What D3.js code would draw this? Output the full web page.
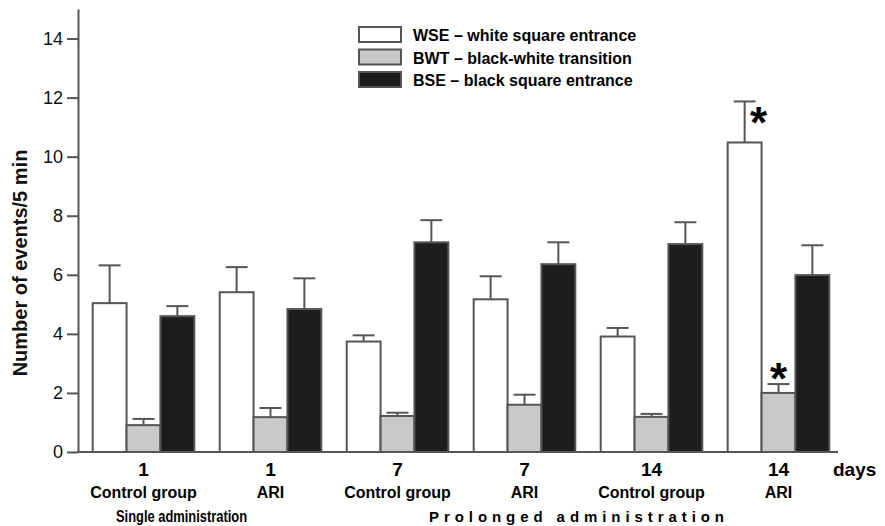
<!DOCTYPE html>
<html>
<head>
<meta charset="utf-8">
<script src="https://cdn.jsdelivr.net/npm/d3@7"></script>
<style>
  body { margin: 0; background: #fff; }
  svg { display: block; font-family: "Liberation Sans", Arial, sans-serif; }
</style>
</head>
<body>
<svg id="chart" width="885" height="526"></svg>
<script>
// groups along the x axis
const days = ["1", "1", "7", "7", "14", "14"];
const groupLabels = ["Control group", "ARI", "Control group", "ARI", "Control group", "ARI"];

// series
const seriesKeys = ["WSE", "BWT", "BSE"];
const seriesLabels = ["WSE \u2013 white square entrance", "BWT \u2013 black-white transition", "BSE \u2013 black square entrance"];

// means and error (SEM) per series
const wse = [5.04, 5.41, 3.74, 5.17, 3.91, 10.48];
const wseErr = [1.28, 0.85, 0.21, 0.78, 0.29, 1.39];
const bwt = [0.91, 1.18, 1.22, 1.6, 1.19, 2.0];
const bwtErr = [0.21, 0.31, 0.11, 0.34, 0.1, 0.3];
const bse = [4.6, 4.84, 7.1, 6.36, 7.04, 5.99];
const bseErr = [0.34, 1.04, 0.75, 0.74, 0.74, 1.01];

// significance marks (*)
const wseSig = [0, 0, 0, 0, 0, 1];
const bwtSig = [0, 0, 0, 0, 0, 1];
const bseSig = [0, 0, 0, 0, 0, 0];

const yTicks = [0, 2, 4, 6, 8, 10, 12, 14];

const means = [wse, bwt, bse];
const errs = [wseErr, bwtErr, bseErr];
const sigs = [wseSig, bwtSig, bseSig];
const fills = ["#ffffff", "#c9c9c9", "#1d1d1d"];
const axisColor = "#555";

const svg = d3.select("#chart");

const x = d3.scaleBand()
  .domain(d3.range(days.length))
  .range([80, 842])
  .paddingInner(0.2)
  .paddingOuter(0.1);

const xs = d3.scaleBand()
  .domain(seriesKeys)
  .range([0, x.bandwidth()]);

const y = d3.scaleLinear().domain([0, 15]).range([452, 9]);

// bars
const data = [];
days.forEach((d, i) => {
  seriesKeys.forEach((k, j) => {
    data.push({ g: i, key: k, s: j, v: means[j][i], e: errs[j][i], sig: sigs[j][i] });
  });
});

const bars = svg.append("g");

// error bars (drawn first so bars cover the stem base)
bars.selectAll("line.err")
  .data(data)
  .enter()
  .append("line")
  .attr("class", "err")
  .attr("x1", d => x(d.g) + xs(d.key) + xs.bandwidth() / 2)
  .attr("x2", d => x(d.g) + xs(d.key) + xs.bandwidth() / 2)
  .attr("y1", d => y(d.v))
  .attr("y2", d => y(d.v + d.e))
  .attr("stroke", axisColor)
  .attr("stroke-width", 2);

bars.selectAll("line.cap")
  .data(data)
  .enter()
  .append("line")
  .attr("class", "cap")
  .attr("x1", d => x(d.g) + xs(d.key) + xs.bandwidth() / 2 - 11)
  .attr("x2", d => x(d.g) + xs(d.key) + xs.bandwidth() / 2 + 11)
  .attr("y1", d => y(d.v + d.e))
  .attr("y2", d => y(d.v + d.e))
  .attr("stroke", axisColor)
  .attr("stroke-width", 2);

bars.selectAll("rect")
  .data(data)
  .enter()
  .append("rect")
  .attr("x", d => x(d.g) + xs(d.key))
  .attr("y", d => y(d.v))
  .attr("width", xs.bandwidth())
  .attr("height", d => y(0) - y(d.v))
  .attr("fill", d => fills[d.s])
  .attr("stroke", axisColor)
  .attr("stroke-width", 2);

// asterisks
bars.selectAll("text.sig")
  .data(data.filter(d => d.sig))
  .enter()
  .append("text")
  .attr("class", "sig")
  .attr("x", d => x(d.g) + xs(d.key) + xs.bandwidth() / 2 + (d.key === "WSE" ? 14 : 0))
  .attr("y", d => y(d.v + d.e) + (d.key === "WSE" ? 37 : 10))
  .attr("text-anchor", "middle")
  .style("font-size", "44px")
  .style("font-weight", "bold")
  .text("*");

// y axis
const yAxis = svg.append("g")
  .attr("transform", "translate(78,0)")
  .call(d3.axisLeft(y).tickValues(yTicks).tickSize(11).tickPadding(4).tickSizeOuter(0));
yAxis.select(".domain").attr("stroke", axisColor).attr("stroke-width", 2);
yAxis.selectAll(".tick line").attr("stroke", axisColor).attr("stroke-width", 2);
yAxis.selectAll(".tick text")
  .style("font-size", "18px")
  .style("font-family", "\"Liberation Sans\", Arial, sans-serif")
  .attr("fill", "#111");

// x axis line
svg.append("line")
  .attr("x1", 78).attr("x2", 838)
  .attr("y1", y(0)).attr("y2", y(0))
  .attr("stroke", axisColor)
  .attr("stroke-width", 2);

// y label
svg.append("text")
  .attr("transform", "translate(27,263) rotate(-90)")
  .attr("text-anchor", "middle")
  .style("font-size", "20px")
  .style("font-weight", "bold")
  .attr("fill", "#111")
  .text("Number of events/5 min");

// x labels
const xl = svg.append("g");
xl.selectAll("text.day")
  .data(days)
  .enter()
  .append("text")
  .attr("class", "day")
  .attr("x", (d, i) => x(i) + x.bandwidth() / 2)
  .attr("y", 476)
  .attr("text-anchor", "middle")
  .style("font-size", "19px")
  .style("font-weight", "bold")
  .text(d => d);

xl.selectAll("text.grp")
  .data(groupLabels)
  .enter()
  .append("text")
  .attr("class", "grp")
  .attr("x", (d, i) => x(i) + x.bandwidth() / 2)
  .attr("y", 498)
  .attr("text-anchor", "middle")
  .style("font-size", "16px")
  .style("font-weight", "bold")
  .text(d => d);

xl.append("text")
  .attr("x", 833).attr("y", 476)
  .style("font-size", "19px")
  .style("font-weight", "bold")
  .text("days");

xl.append("text")
  .attr("x", 116).attr("y", 522)
  .attr("textLength", 131)
  .attr("lengthAdjust", "spacingAndGlyphs")
  .style("font-size", "16px")
  .style("font-weight", "bold")
  .text("Single administration");

xl.append("text")
  .attr("x", 429).attr("y", 522)
  .attr("textLength", 295)
  .attr("lengthAdjust", "spacing")
  .style("font-size", "15px")
  .style("font-weight", "bold")
  .text("Prolonged administration");

// legend
const legend = svg.append("g").attr("transform", "translate(359,27)");
const li = legend.selectAll("g")
  .data(seriesLabels)
  .enter()
  .append("g")
  .attr("transform", (d, i) => `translate(0,${i * 22.5})`);
li.append("rect")
  .attr("width", 42).attr("height", 15)
  .attr("fill", (d, i) => fills[i])
  .attr("stroke", axisColor)
  .attr("stroke-width", 2);
li.append("text")
  .attr("x", 54).attr("y", 14)
  .style("font-size", "16px")
  .style("font-weight", "bold")
  .text(d => d);
</script>
</body>
</html>
